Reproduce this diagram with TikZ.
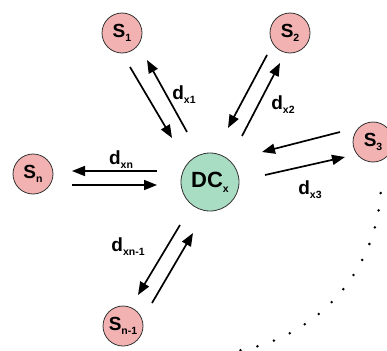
\documentclass[tikz,border=0pt]{standalone}
\usepackage{fontspec}
\setmainfont{Liberation Sans}
\usetikzlibrary{arrows.meta}
\newcommand{\lo}[1]{\raisebox{-0.4ex}{\fontsize{10.5}{10.5}\selectfont #1}}
\definecolor{sitepink}{RGB}{243,178,178}
\definecolor{centregreen}{RGB}{168,221,196}
\tikzset{
  site/.style = {circle, draw = black!80, line width = 0.8pt, fill = sitepink,
                 minimum size = 40pt, inner sep = 0pt, font = \fontsize{19}{19}\selectfont\bfseries},
  centre/.style = {site, fill = centregreen, minimum size = 58pt, font = \fontsize{22}{22}\selectfont\bfseries},
  arr/.style = {line width = 1.7pt, -{Triangle[length = 13pt, width = 10pt]}},
  lbl/.style = {font = \fontsize{19}{19}\selectfont\bfseries, inner sep = 0pt}
}

\begin{document}
\begin{tikzpicture}[x = 1pt, y = -1pt]
\useasboundingbox (0,0) rectangle (387,350);
\clip (0,0) rectangle (387,350);
\fill[white] (0,0) rectangle (387,350);

\node[centre] (DC) at (210,182) {DC\lo{x}};
\node[site] (S1) at (122,33) {S\lo{1}};
\node[site] (S2) at (290,33) {S\lo{2}};
\node[site] (S3) at (373,142) {S\lo{3}};
\node[site] (Sn) at (33,174) {S\lo{n}};
\node[site] (Sn1) at (123,326) {S\lo{n-1}};

% arrow ends
\coordinate (a1) at (130,67);  \coordinate (b1) at (172,138);
\coordinate (c1) at (187,132); \coordinate (e1) at (147,60);
\coordinate (a2) at (267,55);  \coordinate (b2) at (228,128);
\coordinate (c2) at (242,136); \coordinate (e2) at (280,63);
\coordinate (a3) at (340,132); \coordinate (b3) at (262,152);
\coordinate (c3) at (265,175); \coordinate (e3) at (345,157);
\coordinate (an) at (157,171); \coordinate (bn) at (72,171);
\coordinate (cn) at (72,185);  \coordinate (en) at (157,185);
\coordinate (am) at (180,225); \coordinate (bm) at (138,295);
\coordinate (cm) at (152,303); \coordinate (em) at (193,233);

\foreach \i in {1,2,3,n,m}
{
	\draw[arr] (a\i) -- (b\i);
	\draw[arr] (c\i) -- (e\i);
}

\node[lbl] (d1) at (184,95) {d\lo{x1}};
\node[lbl] (d2) at (283,105) {d\lo{x2}};
\node[lbl] (d3) at (310,190) {d\lo{x3}};
\node[lbl] (dn) at (121,160) {d\lo{xn}};
\node[lbl] (dm) at (128,247) {d\lo{xn-1}};

\foreach \i in {0,...,13}
	\fill ([shift = {({3.7+5.85*\i}:171)}]DC.center) circle[radius = 1.4pt];
\end{tikzpicture}
\end{document}
